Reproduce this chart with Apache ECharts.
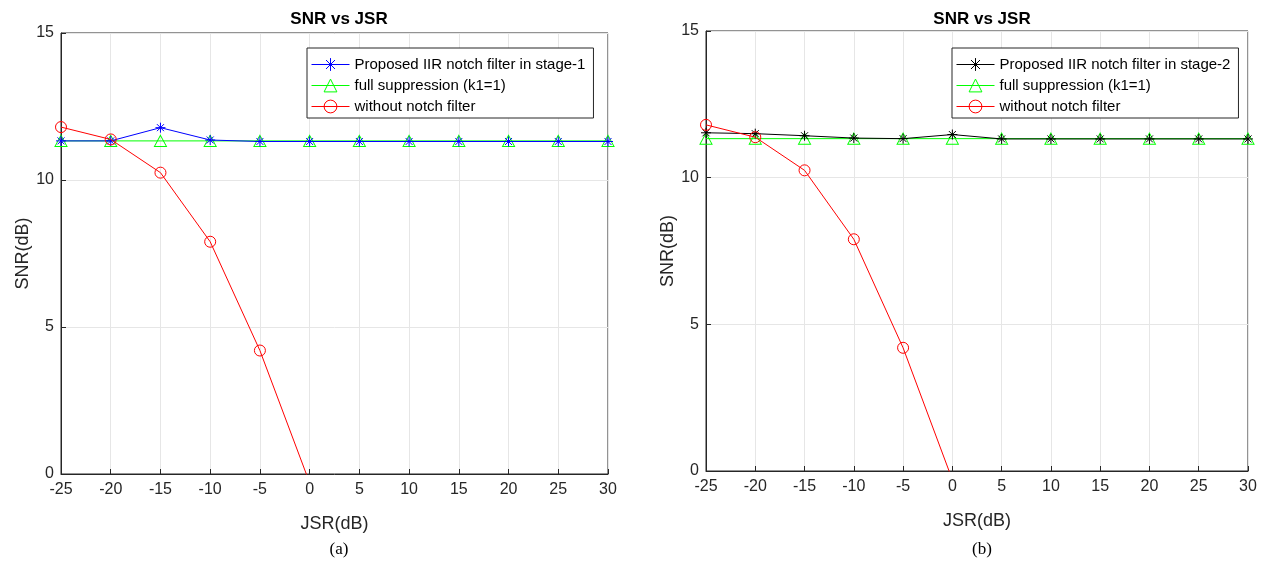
<!DOCTYPE html>
<html>
<head>
<meta charset="utf-8">
<script src="https://cdn.jsdelivr.net/npm/echarts@6/dist/echarts.min.js"></script>
<style>
html,body{margin:0;padding:0;background:#fff;}
#c{width:1263px;height:577px;}
</style>
</head>
<body>
<div id="c"></div>
<script>
// ---- data ----
const jsr = [-25, -20, -15, -10, -5, 0, 5, 10, 15, 20, 25, 30];
const xTicks = [-25, -20, -15, -10, -5, 0, 5, 10, 15, 20, 25, 30];
const yTicks = [0, 5, 10, 15];
const stage1 = [11.33, 11.33, 11.78, 11.36, 11.31, 11.31, 11.31, 11.31, 11.31, 11.31, 11.31, 11.31];
const stage2 = [11.53, 11.5, 11.43, 11.35, 11.33, 11.47, 11.32, 11.32, 11.32, 11.32, 11.32, 11.32];
const fullSupp = [11.33, 11.33, 11.33, 11.33, 11.33, 11.33, 11.33, 11.33, 11.33, 11.33, 11.33, 11.33];
const noNotchJsr = [-25, -20, -15, -10, -5, 0];
const noNotch = [11.8, 11.38, 10.25, 7.9, 4.2, -0.3];
const titles = ['SNR vs JSR', 'SNR vs JSR'];
const captions = ['(a)', '(b)'];
const names1 = ['Proposed IIR notch filter in stage-1', 'full suppression (k1=1)', 'without notch filter'];
const names2 = ['Proposed IIR notch filter in stage-2', 'full suppression (k1=1)', 'without notch filter'];

const pairs = (xs, ys) => xs.map((x, i) => [x, ys[i]]);
const star = 'path://M0,-1L0,1M-1,0L1,0M-0.7,-0.7L0.7,0.7M-0.7,0.7L0.7,-0.7';
const FONT = 'Liberation Sans, Arial, sans-serif';
const AX = '#262626';

const grids = [
  {left: 61, width: 547, top: 33, height: 441, show: true, borderColor: AX, borderWidth: 1},
  {left: 706, width: 542, top: 31, height: 440, show: true, borderColor: AX, borderWidth: 1}
];

function xAxis(i) {
  return {
    type: 'value', gridIndex: i, min: -25, max: 30, interval: 5,
    name: 'JSR(dB)', nameLocation: 'middle', nameGap: 41,
    nameTextStyle: {fontFamily: FONT, fontSize: 18, color: AX},
    axisLine: {onZero: false, lineStyle: {color: AX}},
    axisTick: {inside: true, length: 5, lineStyle: {color: AX}},
    axisLabel: {fontFamily: FONT, fontSize: 16, color: AX, margin: 8,
      formatter: v => xTicks.includes(v) ? String(v) : ''},
    splitLine: {show: true, lineStyle: {color: '#e6e6e6', width: 1}}
  };
}
function yAxis(i) {
  return {
    type: 'value', gridIndex: i, min: 0, max: 15, interval: 5,
    name: 'SNR(dB)', nameLocation: 'middle', nameGap: 21,
    nameTextStyle: {fontFamily: FONT, fontSize: 18, color: AX},
    axisLine: {show: true, onZero: false, lineStyle: {color: AX}},
    axisTick: {show: true, inside: true, length: 5, lineStyle: {color: AX}},
    axisLabel: {fontFamily: FONT, fontSize: 16, color: AX, margin: 7,
      formatter: v => yTicks.includes(v) ? String(v) : ''},
    splitLine: {show: true, lineStyle: {color: '#e6e6e6', width: 1}}
  };
}

function propSeries(i, name, color, data) {
  return {
    type: 'line', name: name, xAxisIndex: i, yAxisIndex: i, z: 4,
    data: pairs(jsr, data), symbol: star, symbolSize: 10,
    lineStyle: {color: color, width: 1},
    itemStyle: {color: color, borderColor: color, borderWidth: 1},
    animation: false
  };
}
function fullSeries(i, name) {
  return {
    type: 'line', name: name, xAxisIndex: i, yAxisIndex: i, z: 3,
    data: pairs(jsr, fullSupp), symbol: 'triangle', symbolSize: [12, 11],
    lineStyle: {color: '#00ff00', width: 1},
    itemStyle: {color: 'rgba(255,255,255,0)', borderColor: '#00ff00', borderWidth: 1},
    animation: false
  };
}
function noSeries(i, name) {
  return {
    type: 'line', name: name, xAxisIndex: i, yAxisIndex: i, z: 5,
    data: pairs(noNotchJsr, noNotch), symbol: 'circle', symbolSize: 11,
    lineStyle: {color: '#ff0000', width: 1},
    itemStyle: {color: 'rgba(255,255,255,0)', borderColor: '#ff0000', borderWidth: 1},
    clip: true, animation: false
  };
}

const legendColors = [['#0000ff', '#00ff00', '#ff0000'], ['#000000', '#00ff00', '#ff0000']];

function legend(i, left, names) {
  return {
    orient: 'vertical', left: left, top: 48, padding: [9, 8, 4, 4], itemGap: 6,
    itemWidth: 38, itemHeight: 16,
    backgroundColor: '#fff', borderColor: AX, borderWidth: 1,
    textStyle: {fontFamily: FONT, fontSize: 15, color: '#000'},
    data: names.map((n, k) => ({
      name: n,
      lineStyle: {width: 1, color: legendColors[i][k]},
      itemStyle: {borderWidth: 1, borderColor: legendColors[i][k],
        color: k === 0 ? legendColors[i][k] : 'rgba(255,255,255,0)'}
    })),
    selectedMode: false
  };
}

const chart = echarts.init(document.getElementById('c'), null, {renderer: 'canvas'});
chart.setOption({
  animation: false,
  backgroundColor: '#fff',
  title: [
    {text: titles[0], left: 334, top: 6, textAlign: 'center', textStyle: {fontFamily: FONT, fontSize: 17, fontWeight: 'bold', color: '#000'}},
    {text: titles[1], left: 977, top: 6, textAlign: 'center', textStyle: {fontFamily: FONT, fontSize: 17, fontWeight: 'bold', color: '#000'}},
    {text: captions[0], left: 334, top: 536, textAlign: 'center', textStyle: {fontFamily: 'Liberation Serif, serif', fontSize: 17, fontWeight: 'normal', color: '#000'}},
    {text: captions[1], left: 977, top: 536, textAlign: 'center', textStyle: {fontFamily: 'Liberation Serif, serif', fontSize: 17, fontWeight: 'normal', color: '#000'}}
  ],
  grid: grids,
  xAxis: [xAxis(0), xAxis(1)],
  yAxis: [yAxis(0), yAxis(1)],
  legend: [legend(0, 307, names1), legend(1, 952, names2)],
  series: [
    propSeries(0, names1[0], '#0000ff', stage1),
    fullSeries(0, names1[1]),
    noSeries(0, names1[2]),
    propSeries(1, names2[0], '#000000', stage2),
    fullSeries(1, names2[1]),
    noSeries(1, names2[2])
  ]
});
</script>
</body>
</html>
